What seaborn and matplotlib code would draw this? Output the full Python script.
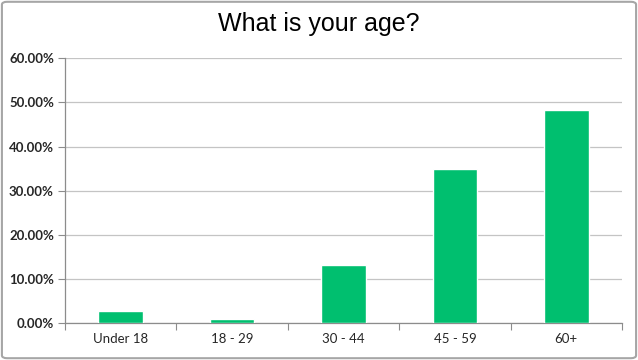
import matplotlib
matplotlib.use("Agg")
import matplotlib.pyplot as plt
import seaborn as sns
import pandas as pd
import numpy as np
from matplotlib.patches import FancyBboxPatch
from matplotlib.ticker import FuncFormatter, FixedLocator

categories = ["Under 18", "18 - 29", "30 - 44", "45 - 59", "60+"]
values = [2.8, 0.9, 13.2, 34.9, 48.2]
y_ticks = [0, 10, 20, 30, 40, 50, 60]
title = "What is your age?"

sns.set_style("white")
plt.rcParams['font.family'] = ['Lato', 'DejaVu Sans']

df = pd.DataFrame({"cat": categories, "val": values})

fig = plt.figure(figsize=(6.38, 3.6), dpi=100)
ax = fig.add_axes([65/638, 1-323.3/360, (622-65)/638, (323.3-58.3)/360])

sns.barplot(data=df, x="cat", y="val", color="#00BF6F", width=0.4,
            saturation=1, ax=ax, zorder=3)

ax.set_ylim(0, 60)
ax.set_xlim(-0.5, len(categories) - 0.5)
ax.set_yticks(y_ticks)
ax.yaxis.set_major_formatter(FuncFormatter(lambda v, p: f"{v:.2f}%"))
ax.yaxis.grid(True, color="#C4C4C4", linewidth=0.9, zorder=0)
ax.set_axisbelow(True)

for s in ["top", "right"]:
    ax.spines[s].set_visible(False)
for s in ["left", "bottom"]:
    ax.spines[s].set_color("#8C8C8C")
    ax.spines[s].set_linewidth(0.9)

ax.tick_params(axis="y", which="major", length=5, width=0.8, color="#8C8C8C",
               labelsize=9.5, labelcolor="#262626", pad=3, direction="out", left=True)
for lab in ax.get_yticklabels():
    lab.set_fontweight("bold")
ax.tick_params(axis="x", which="major", length=0, labelsize=9.5,
               labelcolor="#262626", pad=7)
ax.xaxis.set_minor_locator(FixedLocator(np.arange(-0.5, len(categories), 1.0)))
ax.tick_params(axis="x", which="minor", length=5, width=0.8, color="#8C8C8C",
               direction="out", bottom=True)

ax.set_xlabel("")
ax.set_ylabel("")

fig.text(0.5, 1 - 24/360, title, ha="center", va="center", fontsize=18,
         family=["Liberation Sans", "DejaVu Sans"], color="black")

border = FancyBboxPatch((0.003, 0.005), 0.994, 0.99, transform=fig.transFigure,
                        boxstyle="round,pad=0,rounding_size=0.008",
                        fill=False, edgecolor="#A6A6A6", linewidth=1.5)
fig.patches.append(border)

fig.savefig("out.png", dpi=100)
